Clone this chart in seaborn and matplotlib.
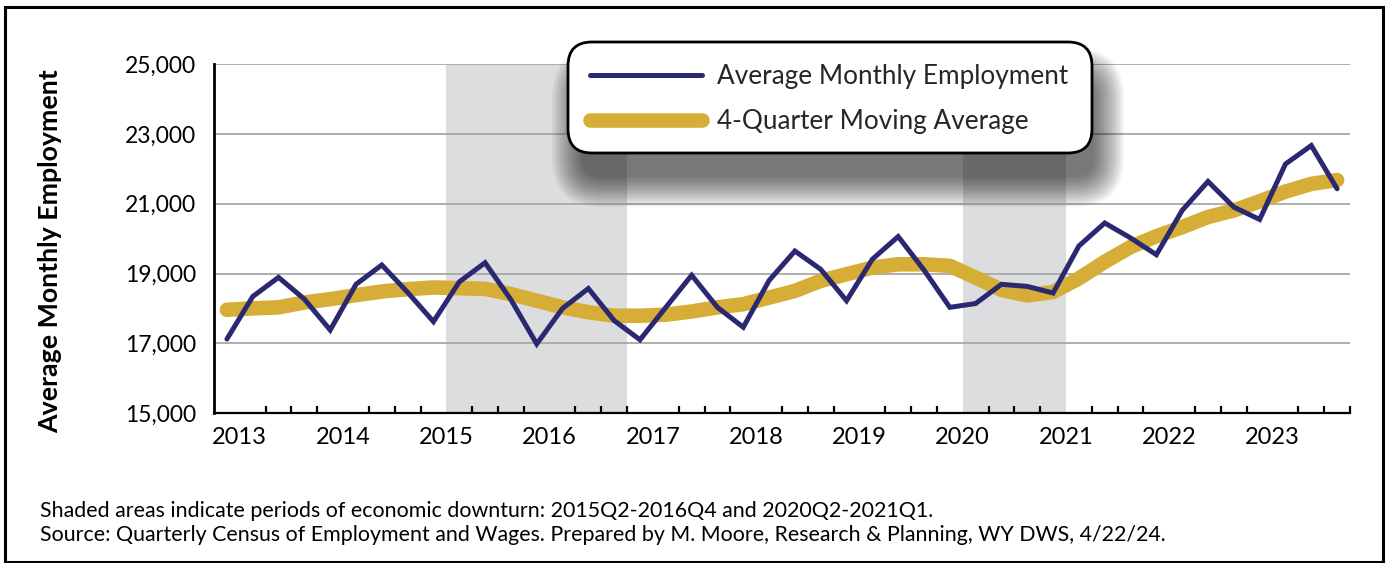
import numpy as np
import pandas as pd
import matplotlib as mpl
mpl.use("Agg")
import matplotlib.pyplot as plt
import matplotlib.transforms as mtrans
from matplotlib.patches import FancyBboxPatch, Rectangle
from matplotlib.lines import Line2D
import seaborn as sns

# quarterly data 2013Q1 .. 2023Q4
years = list(range(2013, 2024))
quarters = [f"{y}Q{q}" for y in years for q in range(1, 5)]

employment = [17120, 18340, 18890, 18265, 17380, 18690, 19245, 18460,
              17620, 18760, 19310, 18250, 16980, 18000, 18570, 17650,
              17100, 18030, 18950, 18030, 17460, 18800, 19645, 19120,
              18220, 19410, 20060, 19100, 18030, 18140, 18690, 18630,
              18440, 19790, 20450, 20020, 19540, 20810, 21640, 20905,
              20550, 22140, 22670, 21430]

moving_avg = [17960, 18000, 18030, 18170, 18265, 18380, 18485, 18550,
              18600, 18580, 18560, 18410, 18220, 18030, 17890, 17790,
              17790, 17820, 17910, 18030, 18120, 18310, 18500, 18790,
              18980, 19170, 19265, 19265, 19220, 18885, 18530, 18370,
              18470, 18860, 19335, 19760, 20070, 20330, 20620, 20810,
              21070, 21350, 21570, 21680]

downturns = [("2015Q2", "2016Q4"), ("2020Q2", "2021Q1")]

labels = ["Average Monthly Employment", "4-Quarter Moving Average"]
footnotes = ["Shaded areas indicate periods of economic downturn: 2015Q2-2016Q4 and 2020Q2-2021Q1.",
             "Source: Quarterly Census of Employment and Wages. Prepared by M. Moore, Research & Planning, WY DWS, 4/22/24."]

df = pd.DataFrame({"quarter": quarters, "employment": employment, "moving_avg": moving_avg})
df["x"] = np.arange(len(df)) + 0.5

BLUE = "#2B2872"
GOLD = "#D6AE37"
SHADE = "#DCDDDF"

sns.set_theme(style="white")
plt.rcParams['font.family'] = ['Lato', 'DejaVu Sans']

W, H = 1388, 563
fig = plt.figure(figsize=(W / 100, H / 100), dpi=100)
ax = fig.add_axes([214 / W, 1 - 413 / H, (1350 - 214) / W, (413 - 64.3) / H])

for start, end in downturns:
    ax.axvspan(quarters.index(start), quarters.index(end) + 1, color=SHADE, lw=0, zorder=0)

sns.lineplot(data=df, x="x", y="moving_avg", ax=ax, color=GOLD, lw=10.5,
             solid_capstyle='round', legend=False, zorder=3)
sns.lineplot(data=df, x="x", y="employment", ax=ax, color=BLUE, lw=3.6,
             solid_joinstyle='miter', legend=False, zorder=4)

ax.set_xlim(0, len(quarters))
ax.set_ylim(15000, 25000)
ax.set_yticks(range(15000, 25001, 2000))
ax.set_yticklabels([f"{v:,}" for v in range(15000, 25001, 2000)])
ax.set_axisbelow(True)
ax.yaxis.grid(True, color="#A8A8A8", lw=1.3)
ax.xaxis.grid(False)

ax.set_xticks([4 * k + 1 for k in range(len(years))])
ax.set_xticklabels([str(y) for y in years])
ax.set_xticks(range(1, len(quarters) + 1), minor=True)
ax.tick_params(axis='x', which='major', length=0, pad=10, labelsize=17, colors='black')
ax.tick_params(axis='x', which='minor', bottom=True, direction='in', length=5, width=1.6, color='black')
ax.tick_params(axis='y', length=0, pad=13, labelsize=16.5, colors='black')

for s in ['top', 'right']:
    ax.spines[s].set_visible(False)
ax.spines['left'].set_color('black')
ax.spines['left'].set_linewidth(2)
ax.spines['bottom'].set_color('black')
ax.spines['bottom'].set_linewidth(1.6)
ax.set_xlabel("")
ax.set_ylabel("Average Monthly Employment", fontsize=19.3, fontweight='bold', color='black')
ax.yaxis.set_label_coords(-0.134, 0.464)

# legend box with soft shadow (pixel coordinates)
ident = mtrans.IdentityTransform()
bx, by, bw, bh = 568, H - 153, 524, 111
for k in range(16):
    p = k * 2.0
    fig.add_artist(FancyBboxPatch((bx + 20 - 6 - p, by - 30 + 6 - p), bw - 12 + 2 * p, bh - 12 + 2 * p,
                                  boxstyle=f"round,pad=0,rounding_size={20 + p}",
                                  transform=ident, fc='black', ec='none', alpha=0.045, zorder=3))
fig.add_artist(FancyBboxPatch((bx, by), bw, bh, boxstyle="round,pad=0,rounding_size=24",
                              transform=ident, fc='white', ec='black', lw=2, zorder=4))

handles = [Line2D([], [], color=BLUE, lw=3.6),
           Line2D([], [], color=GOLD, lw=10.5, solid_capstyle='round')]
fig.legend(handles, labels, loc='upper left', bbox_to_anchor=(590 / W, 1 - 64 / H),
           frameon=False, fontsize=18.8, handlelength=4.3, handletextpad=0.55,
           labelspacing=0.78, borderpad=0, borderaxespad=0)

fig.text(40 / W, 1 - 511 / H, footnotes[0], fontsize=15.4, va='center', ha='left', color='black')
fig.text(40 / W, 1 - 535 / H, footnotes[1], fontsize=15.4, va='center', ha='left', color='black')

fig.add_artist(Rectangle((5, 1), 1378, 555, transform=ident, fill=False, ec='black', lw=2.2, zorder=10))

fig.savefig("out.png", dpi=100)
